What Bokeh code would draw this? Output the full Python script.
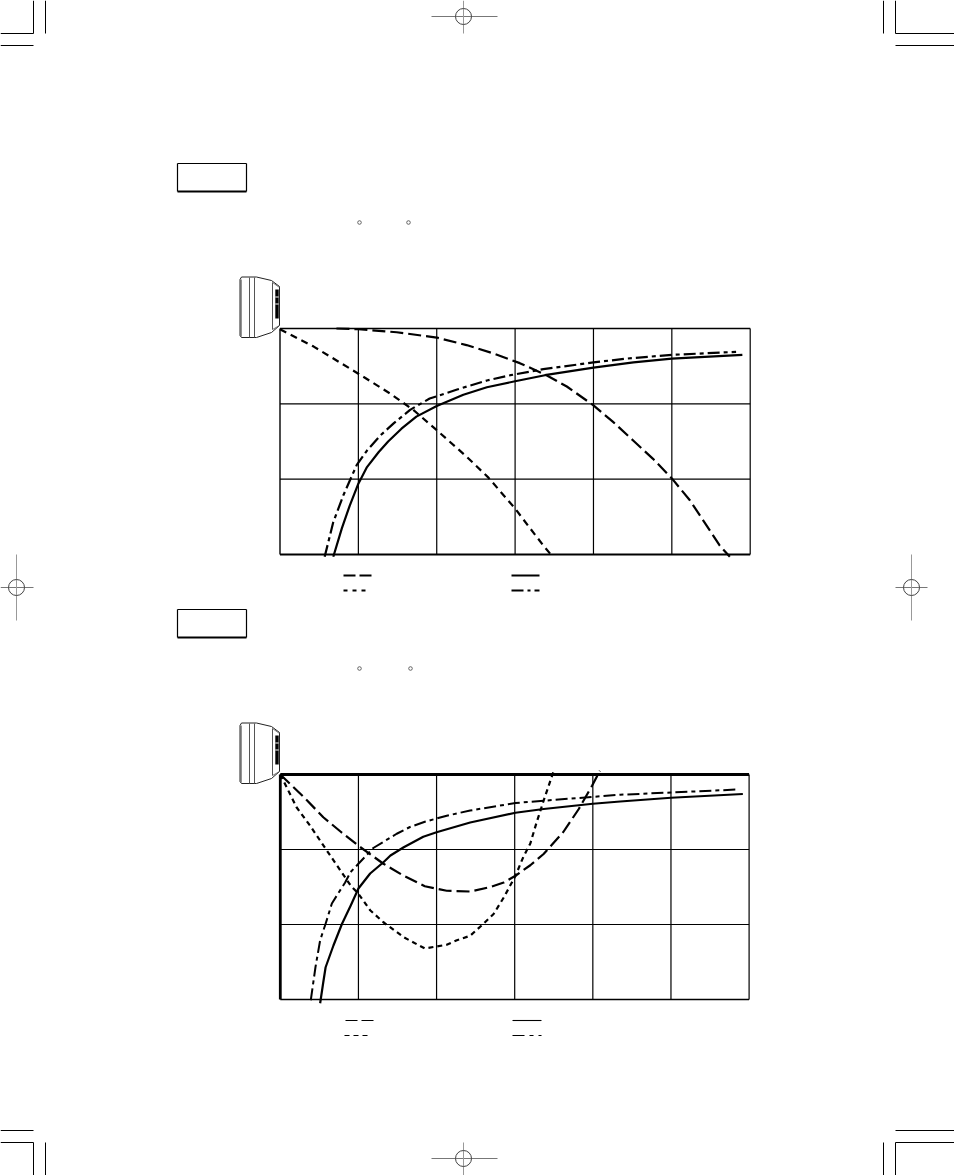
from bokeh.plotting import figure
from bokeh.models import Range1d
from bokeh.embed import file_html
from bokeh.resources import INLINE

# ---- chart data: x = grid cells from the unit, y = cells below the top line
grid_x = [0, 1, 2, 3, 4, 5, 6]
grid_y = [0, -1, -2, -3]

a_long_x = [0.72, 1.0, 1.49, 2.0, 2.38, 2.72, 3.06, 3.40, 3.66, 4.0, 4.25, 4.51, 4.76, 5.0, 5.23, 5.44, 5.61, 5.74]
a_long_y = [0, -0.01, -0.05, -0.12, -0.22, -0.33, -0.46, -0.62, -0.77, -1.02, -1.24, -1.49, -1.73, -1.99, -2.28, -2.61, -2.88, -3.03]
a_short_x = [0, 0.43, 1.0, 1.40, 1.70, 2.0, 2.38, 2.66, 3.0, 3.19, 3.36, 3.48]
a_short_y = [-0.01, -0.24, -0.60, -0.86, -1.08, -1.35, -1.70, -1.98, -2.39, -2.65, -2.88, -3.03]
a_solid_x = [0.68, 0.79, 0.89, 1.0, 1.11, 1.26, 1.38, 1.55, 1.74, 2.0, 2.34, 2.64, 3.0, 3.38, 4.0, 4.51, 5.0, 5.90]
a_solid_y = [-3.03, -2.65, -2.35, -2.06, -1.84, -1.64, -1.50, -1.33, -1.17, -1.03, -0.88, -0.78, -0.70, -0.62, -0.52, -0.45, -0.40, -0.35]
a_dot_x = [0.57, 0.68, 0.81, 0.98, 1.11, 1.28, 1.45, 1.66, 1.91, 2.26, 2.64, 2.94, 3.36, 4.0, 4.42, 5.0, 5.82]
a_dot_y = [-3.03, -2.57, -2.21, -1.81, -1.62, -1.42, -1.26, -1.08, -0.93, -0.81, -0.69, -0.62, -0.54, -0.45, -0.40, -0.35, -0.31]

b_long_x = [0, 0.30, 0.55, 0.77, 1.0, 1.32, 1.58, 1.85, 2.13, 2.43, 2.69, 2.86, 3.01, 3.20, 3.37, 3.62, 3.82, 3.99, 4.09]
b_long_y = [0, -0.30, -0.57, -0.76, -0.95, -1.19, -1.35, -1.49, -1.55, -1.56, -1.50, -1.44, -1.35, -1.21, -1.06, -0.77, -0.46, -0.15, 0.05]
b_short_x = [0, 0.21, 0.38, 0.58, 0.90, 1.0, 1.15, 1.32, 1.58, 1.85, 2.13, 2.26, 2.43, 2.60, 2.73, 2.86, 3.01, 3.11, 3.20, 3.28, 3.37, 3.50]
b_short_y = [0, -0.44, -0.68, -0.99, -1.48, -1.59, -1.81, -1.97, -2.17, -2.32, -2.27, -2.21, -2.15, -1.99, -1.86, -1.64, -1.35, -1.10, -0.92, -0.64, -0.35, 0.05]
b_solid_x = [0.51, 0.55, 0.58, 0.68, 0.79, 0.90, 1.0, 1.15, 1.32, 1.41, 1.58, 1.83, 2.0, 2.43, 3.01, 3.37, 4.0, 4.35, 5.0, 5.92]
b_solid_y = [-3.05, -2.77, -2.57, -2.28, -1.99, -1.75, -1.52, -1.32, -1.17, -1.08, -0.97, -0.83, -0.77, -0.64, -0.51, -0.46, -0.39, -0.36, -0.31, -0.26]
b_dot_x = [0.39, 0.45, 0.51, 0.58, 0.66, 0.75, 0.83, 0.90, 1.0, 1.19, 1.49, 1.66, 1.85, 2.13, 2.43, 3.01, 3.37, 3.98, 4.35, 5.0, 5.85]
b_dot_y = [-3.01, -2.57, -2.21, -1.99, -1.72, -1.57, -1.44, -1.30, -1.19, -0.98, -0.79, -0.70, -0.63, -0.55, -0.48, -0.38, -0.35, -0.30, -0.27, -0.24, -0.20]

LONG, SHORT, DOT = "13 5", "7 5", "12 4 4 4"

W, H = 954, 1175
p = figure(width=W, height=H, output_backend="svg", toolbar_location=None,
           x_range=Range1d(0, W), y_range=Range1d(H, 0),
           min_border=0, outline_line_color=None)
p.axis.visible = False
p.grid.visible = False


def add_chart(name, left, right, top, bottom, lw_top, lw_left, lw_bottom, curves):
    cx = (right - left) / 6
    cy = (bottom - top) / 3
    p.extra_x_ranges["x" + name] = Range1d(-left / cx, (W - left) / cx)
    p.extra_y_ranges["y" + name] = Range1d(-(H - top) / cy, top / cy)
    kw = dict(x_range_name="x" + name, y_range_name="y" + name, line_color="black")
    for gx in grid_x[1:-1]:
        p.line([gx, gx], [grid_y[0], grid_y[-1]], line_width=1.2, **kw)
    for gy in grid_y[1:-1]:
        p.line([grid_x[0], grid_x[-1]], [gy, gy], line_width=1.2, **kw)
    p.line([grid_x[0], grid_x[-1]], [0, 0], line_width=lw_top, **kw)
    p.line([grid_x[0], grid_x[-1]], [-3, -3], line_width=lw_bottom, **kw)
    p.line([0, 0], [grid_y[0], grid_y[-1]], line_width=lw_left, **kw)
    p.line([6, 6], [grid_y[0], grid_y[-1]], line_width=1.2, **kw)
    for xs, ys, dash, lw in curves:
        p.line(xs, ys, line_dash=dash, line_width=lw, line_join="round", **kw)


add_chart("a", 279.5, 749.7, 328, 554, 1.4, 1.4, 2, [
    (a_long_x, a_long_y, LONG, 2.2), (a_short_x, a_short_y, SHORT, 2.2),
    (a_solid_x, a_solid_y, "solid", 2.2), (a_dot_x, a_dot_y, DOT, 2.2)])
add_chart("b", 279.8, 748.6, 774, 999, 2.8, 2.8, 1.4, [
    (b_long_x, b_long_y, LONG, 2.2), (b_short_x, b_short_y, "5 4", 2.2),
    (b_solid_x, b_solid_y, "solid", 2.2), (b_dot_x, b_dot_y, DOT, 2)])


# ---- page furniture, in page pixels
def seg(x0, y0, x1, y1, color="black", lw=1.0):
    p.line([x0, x1], [y0, y1], line_color=color, line_width=lw)


def reg_mark(cx, cy, x0, x1, y0, y1):
    seg(x0, cy, x1, cy, "#777777", 1)
    seg(cx, y0, cx, y1, "#999999", 1)
    p.circle([cx], [cy], radius=8, fill_color=None, line_color="#444444", line_width=1)


# crop marks
for x_in, x_out, x_far in [(33, 45, 0), (895, 883, 954)]:
    for y_in, y_out, y_far in [(33, 45, 0), (1142, 1130, 1175)]:
        seg(x_in, y_far, x_in, y_in)
        seg(x_out, y_far, x_out, y_in)
        seg(x_far, y_in, x_in, y_in)
        seg(x_far, y_out, x_in, y_out)

reg_mark(463, 16, 431, 497, 0, 33)
reg_mark(463, 1158, 431, 497, 1142, 1175)
reg_mark(16, 587, 0, 33, 554, 620)
reg_mark(911, 587, 895, 927, 554, 620)

for off, deg in [(0, (359, 408)), (446, (359, 410))]:
    # label box
    seg(177, 163 + off, 246, 163 + off, lw=1.2)
    seg(177, 191 + off, 246, 191 + off, lw=2.2)
    seg(177, 163 + off, 177, 191 + off, lw=1.2)
    seg(246, 163 + off, 246, 191 + off, lw=1.2)
    # degree signs of the missing caption
    p.circle(list(deg), [222 + off] * 2, radius=1.8, fill_color=None, line_color="#444444", line_width=0.8)
    # indoor unit icon
    p.line([256, 241, 239.5, 239.5, 241, 256, 271, 279, 279, 271, 256],
           [276.5 + off, 276.5 + off, 279 + off, 335 + off, 337 + off, 337 + off, 332 + off, 325 + off, 286 + off, 280 + off, 276.5 + off],
           line_color="#222222", line_width=1)
    seg(240.5, 279 + off, 240.5, 336 + off, "#666666", 1.4)
    seg(249, 277 + off, 249, 337 + off, "#555555", 1)
    seg(254, 277 + off, 254, 337 + off, "#555555", 1)
    seg(272, 282 + off, 272, 329 + off, "#555555", 1)
    seg(276.5, 289 + off, 276.5, 318 + off, "black", 3.4)
    seg(276.5, 296 + off, 276.5, 297 + off, "white", 3.4)
    seg(276.5, 303 + off, 276.5, 304 + off, "white", 3.4)
    seg(272, 282 + off, 279, 287 + off, "#555555", 0.8)
    seg(272, 329 + off, 279, 325 + off, "#555555", 0.8)

# legend samples
p.line([343, 371], [575, 575], line_color="black", line_width=2, line_dash="12 4")
p.line([343, 366], [590, 590], line_color="black", line_width=2, line_dash="4 5")
p.line([511, 539], [575, 575], line_color="black", line_width=2)
p.line([511, 539], [590, 590], line_color="black", line_width=2, line_dash="12 4 3 4")
p.line([345, 373], [1020, 1020], line_color="black", line_width=1.1, line_dash="12 4")
p.line([344, 368], [1035, 1035], line_color="black", line_width=1.1, line_dash="5 4")
p.line([512, 541], [1020, 1020], line_color="black", line_width=1.1)
p.line([512, 541], [1035, 1035], line_color="black", line_width=1.1, line_dash="12 5 4 5")

open("out.html", "w").write(file_html(p, INLINE))
